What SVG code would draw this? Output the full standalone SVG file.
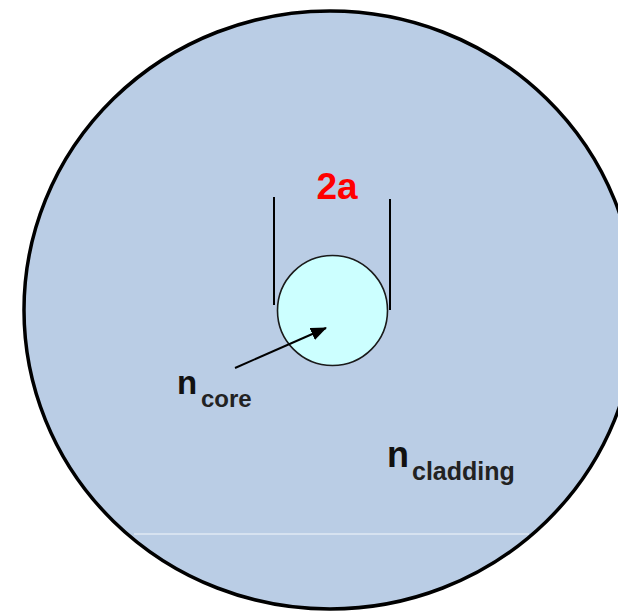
<svg xmlns="http://www.w3.org/2000/svg" width="618" height="611" viewBox="0 0 618 611">
<style>
.lbl{font-family:"Liberation Sans",Arial,sans-serif;font-weight:bold;fill:#111}
.sub{font-family:"Liberation Sans",Arial,sans-serif;font-weight:bold;fill:#222}
</style>
<defs>
<marker id="ah" markerWidth="16" markerHeight="14" refX="15" refY="6.5" orient="auto" markerUnits="userSpaceOnUse">
<path d="M0,0 L16,6.5 L0,13 Z" fill="#000"/>
</marker>
</defs>
<rect width="618" height="611" fill="#fff"/>
<g id="cladding">
<ellipse cx="330" cy="310" rx="306" ry="299" fill="#bacde5" stroke="#000" stroke-width="3.5"/>
<line x1="134" y1="534" x2="529" y2="534" stroke="#fff" stroke-width="1" opacity="0.85"/>
</g>
<g id="core">
<circle cx="332.5" cy="310.5" r="55" fill="#ccffff" stroke="#1a1a1a" stroke-width="1.6"/>
</g>
<g id="connectors">
<line x1="274" y1="197" x2="274" y2="305" stroke="#000" stroke-width="2"/>
<line x1="390" y1="199" x2="390" y2="310" stroke="#000" stroke-width="2"/>
<line x1="235" y1="368" x2="326" y2="328" stroke="#000" stroke-width="2" marker-end="url(#ah)"/>
</g>
<g id="label-2a">
<text x="337" y="199" text-anchor="middle" font-family="Liberation Sans, Arial, sans-serif" font-weight="bold" font-size="37" fill="#ff0000">2a</text>
</g>
<g id="label-ncore">
<text x="177" y="394" class="lbl" font-size="33">n</text>
<text x="201" y="407" class="sub" font-size="24">core</text>
</g>
<g id="label-ncladding">
<text x="387" y="467" class="lbl" font-size="36">n</text>
<text x="412" y="480" class="sub" font-size="25">cladding</text>
</g>
</svg>
